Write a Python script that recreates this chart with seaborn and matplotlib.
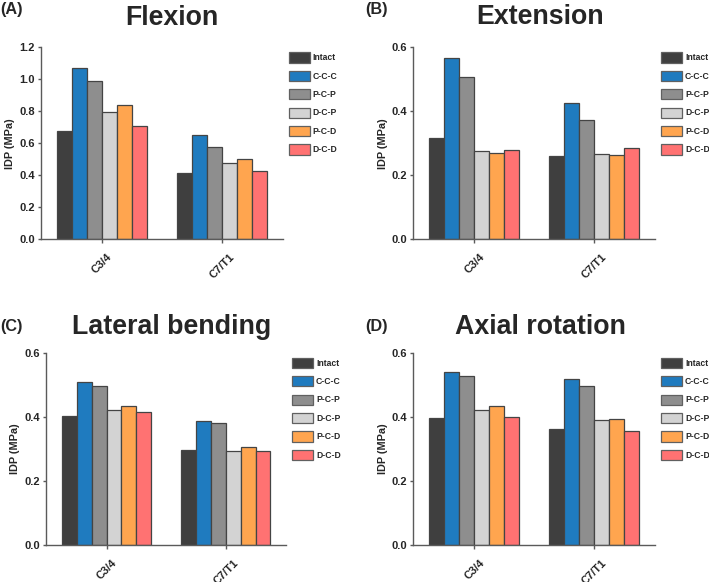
import numpy as np
import pandas as pd
import matplotlib
matplotlib.use("Agg")
import matplotlib.pyplot as plt
import seaborn as sns

# ------------------------------------------
# data
# ------------------------------------------
levels = ["C3/4", "C7/T1"]
groups = ["Intact", "C-C-C", "P-C-P", "D-C-P", "P-C-D", "D-C-D"]

flexion_c34 = [0.679, 1.071, 0.992, 0.796, 0.842, 0.706]
flexion_c7t1 = [0.417, 0.652, 0.579, 0.479, 0.500, 0.429]

extension_c34 = [0.317, 0.568, 0.507, 0.275, 0.269, 0.278]
extension_c7t1 = [0.259, 0.425, 0.374, 0.267, 0.263, 0.286]

lateral_c34 = [0.403, 0.508, 0.497, 0.420, 0.434, 0.416]
lateral_c7t1 = [0.297, 0.387, 0.382, 0.295, 0.306, 0.295]

axial_c34 = [0.397, 0.539, 0.527, 0.420, 0.434, 0.399]
axial_c7t1 = [0.363, 0.518, 0.497, 0.389, 0.395, 0.356]

colors = ["#3f3f3f", "#1f7bbf", "#8e8e8e", "#d3d3d3", "#ffa54f", "#ff7272"]

panels = [
    ("(A)", "Flexion", flexion_c34, flexion_c7t1, 1.2),
    ("(B)", "Extension", extension_c34, extension_c7t1, 0.6),
    ("(C)", "Lateral bending", lateral_c34, lateral_c7t1, 0.6),
    ("(D)", "Axial rotation", axial_c34, axial_c7t1, 0.6),
]

# axes boxes in pixels: left, right, top, bottom
boxes = [
    (40.7, 282.7, 47.3, 239.3),
    (413.3, 655.0, 47.3, 239.3),
    (45.7, 286.0, 352.7, 545.3),
    (413.3, 655.0, 352.7, 545.3),
]
title_pos = [(172, 25), (540, 24), (172, 334), (540, 334)]
label_pos = [(0, 14), (365, 14), (0, 331), (365, 331)]

# ------------------------------------------
# style
# ------------------------------------------
sns.set_style("ticks")
plt.rcParams["font.family"] = ["Liberation Sans", "DejaVu Sans"]
plt.rcParams["font.weight"] = "bold"
plt.rcParams["axes.labelweight"] = "bold"

W, H = 709, 582
fig = plt.figure(figsize=(W / 100, H / 100), dpi=100)

for (tag, title, v1, v2, ymax), (l, r, t, b), tp, lp in zip(panels, boxes, title_pos, label_pos):
    ax = fig.add_axes([l / W, 1 - b / H, (r - l) / W, (b - t) / H])

    df = pd.DataFrame({
        "level": [levels[0]] * len(groups) + [levels[1]] * len(groups),
        "group": groups + groups,
        "idp": v1 + v2,
    })

    sns.barplot(data=df, x="level", y="idp", hue="group", hue_order=groups,
                palette=colors, saturation=1, width=0.75, edgecolor="#444444",
                linewidth=0.9, errorbar=None, ax=ax)

    ax.set_xlim(-0.51, 1.505)
    ax.set_ylim(0, ymax)
    yt = np.arange(0, ymax + 0.01, 0.2)
    ax.set_yticks(yt)
    ax.set_yticklabels([f"{v:.1f}" for v in yt])
    ax.set_xlabel("")
    ax.set_ylabel("IDP (MPa)", fontsize=7.8, fontweight="bold", labelpad=3)

    for s in ["top", "right"]:
        ax.spines[s].set_visible(False)
    for s in ["left", "bottom"]:
        ax.spines[s].set_color("#5a5a5a")
        ax.spines[s].set_linewidth(1.0)

    ax.tick_params(axis="y", direction="out", length=2.4, width=1, color="#5a5a5a",
                   pad=1.9, labelsize=8)
    ax.tick_params(axis="x", direction="out", length=3, width=1, color="#5a5a5a",
                   pad=6, labelsize=8)
    for lab in ax.get_xticklabels():
        lab.set_rotation(45)
        lab.set_fontweight("bold")
    for lab in ax.get_yticklabels():
        lab.set_fontweight("bold")

    handles, labels = ax.get_legend_handles_labels()
    for h in handles:
        h.set_edgecolor("#606060")
    ax.legend(handles, labels, loc="upper left",
              bbox_to_anchor=(1 + 6.3 / (r - l), 1 - 5.0 / (b - t)),
              frameon=False, prop={"size": 6.2, "weight": "bold"},
              handlelength=2.4, handleheight=1.45, handletextpad=0.35,
              labelspacing=0.95, borderpad=0, borderaxespad=0)

    fig.text(tp[0] / W, 1 - tp[1] / H, title, ha="center", va="baseline",
             fontsize=19.3, fontweight="bold")
    fig.text(lp[0] / W, 1 - lp[1] / H, tag, ha="left", va="baseline",
             fontsize=11.7, fontweight="bold")

plt.savefig("out.png", dpi=100)
